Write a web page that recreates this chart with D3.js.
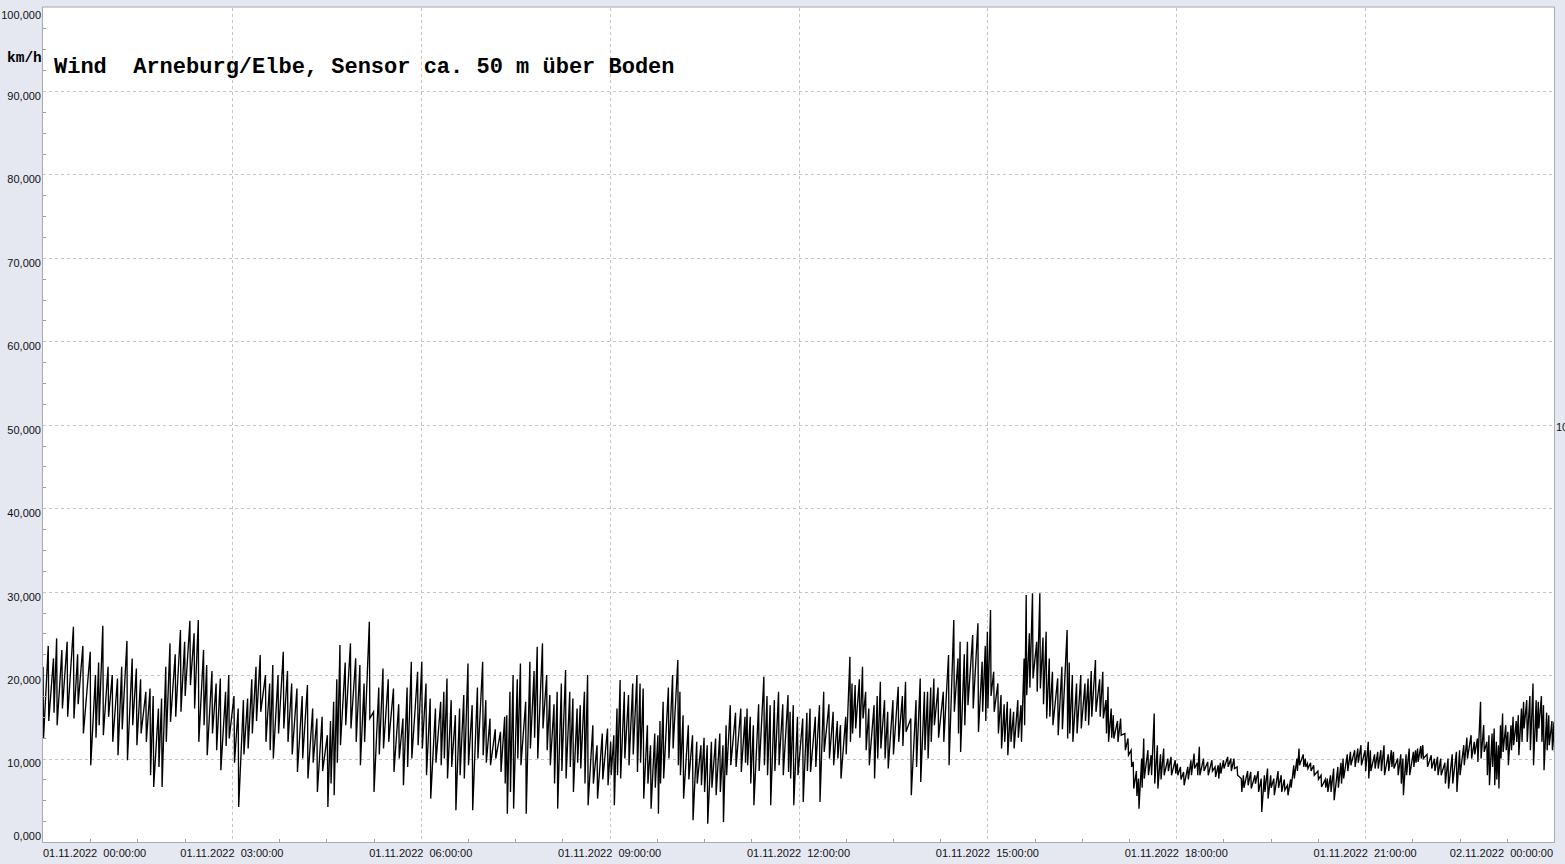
<!DOCTYPE html>
<html>
<head>
<meta charset="utf-8">
<script src="https://cdn.jsdelivr.net/npm/d3@7"></script>
<style>
html,body{margin:0;padding:0;background:#e5e8f1;}
svg{display:block;}
</style>
</head>
<body>
<svg id="chart" width="1565" height="864"></svg>
<script>
// ---------- data ----------
const chartTitle = "Wind  Arneburg/Elbe, Sensor ca. 50 m über Boden";
const unitLabel = "km/h";
const startDate = "2022-11-01T00:00:00";
const endDate = "2022-11-02T00:00:00";
const yTicks = [0, 10, 20, 30, 40, 50, 60, 70, 80, 90, 100];
const xTickHours = [0, 3, 6, 9, 12, 15, 18, 21, 24];

// minutes after 01.11.2022 00:00 of each reading pair
const sampleMinute = [
0,5,10,13,18,23,29,33,38,45,50,53,57,62,66,71,75,80,85,89,93,98,102,105,110,113,117,121,126,131,135,140,144,148,153,156,161,165,169,174,177,182,186,191,195,199,203,207,212,216,219,224,229,233,237,242,247,252,257,261,266,271,274,277,280,283,288,293,298,302,306,311,315,320,324,329,334,339,343,347,351,357,361,
365,369,374,379,382,385,389,393,397,401,405,409,414,419,422,426,431,436,440,442,445,448,452,455,460,464,468,471,476,480,483,487,490,494,498,502,505,509,512,516,519,524,528,533,538,541,544,547,550,554,558,562,566,569,572,576,579,583,586,588,591,596,600,605,607,610,615,619,623,627,630,633,637,641,645,648,651,655,660,665,669,671,674,677,682,687,690,693,697,701,705,710,
712,715,719,724,728,731,736,740,744,749,753,757,760,765,769,771,774,778,781,784,787,792,795,798,802,805,810,815,819,822,827,832,836,840,843,846,849,853,858,863,868,872,874,878,881,886,891,895,898,900,903,906,910,913,916,919,922,925,929,932,935,937,940,943,947,950,953,956,959,962,967,971,976,978,981,985,989,993,996,999,1003,1007,1010,1013,1015,1018,1020,1024,1027,1031,1034,1037,1039,1042,1044,1047,1049,1053,1056,1059,1062,
1065,1068,1072,1075,1079,1081,1084,1087,1091,1094,1097,1100,1102,1106,1110,1114,1117,1120,1122,1125,1129,1132,1135,1138,1142,1144,1148,1151,1155,1158,1161,1164,1167,1170,1173,1177,1180,1183,1186,1189,1192,1195,1197,1201,1203,1205,1208,1211,1215,1218,1222,1224,1227,1230,1234,1237,1239,1243,1246,1250,1253,1256,1260,1263,1265,1269,1272,1275,1278,1282,1285,1287,1291,1294,1296,1299,1302,1306,1308,1310,1313,1315,1319,1323,1326,1329,1332,1336,1339,1343,1347,1350,1354,1357,1361,1364,1367,1370,1373,1376,1378,1381,1383,1385,1387,1389,1391,1394,1396,1399,1401,1404,1406,1409,1411,1414,1417,1420,1423,1425,1428,1430,1433,1435,1438,1440
];

// gust peaks (km/h) at each sample
const peakKmh = [
21.0,23.5,22.0,24.4,23.0,24.0,25.8,22.5,23.5,22.8,20.0,21.5,25.9,21.0,20.0,19.6,21.0,24.1,22.0,20.8,19.5,18.0,18.4,17.5,16.0,17.2,21.0,23.8,22.5,25.4,24.0,26.5,25.0,26.6,23.0,21.2,20.5,19.0,19.6,18.0,20.0,17.5,16.0,17.0,17.2,19.5,21.0,22.4,20.0,19.0,21.2,20.0,22.8,20.5,19.0,18.4,17.5,18.8,16.0,14.8,15.0,12.8,14.5,16.8,19.5,23.6,21.5,23.8,22.0,21.2,19.0,26.4,15.6,18.5,20.8,19.5,18.4,16.5,14.8,18.5,21.6,20.4,21.6,
19.0,17.2,16.0,16.8,18.0,19.6,17.0,15.2,16.0,17.6,21.4,16.4,18.5,21.6,17.0,14.8,13.5,13.2,15.0,15.2,18.0,20.0,19.5,21.4,16.8,21.6,20.5,23.4,23.8,20.0,17.6,16.5,18.0,19.0,20.6,18.0,17.2,16.0,16.4,18.0,20.0,14.0,11.6,13.0,13.6,12.0,12.8,16.0,19.4,18.0,17.6,19.0,20.0,19.0,18.4,14.0,11.6,13.0,12.8,14.5,16.8,18.5,20.0,21.8,18.0,15.2,14.0,12.8,12.0,11.6,12.5,11.6,12.0,12.4,13.0,11.6,14.0,16.4,15.5,16.0,15.0,16.0,15.0,14.0,16.5,19.8,17.5,16.4,17.0,18.0,16.5,17.6,
15.6,16.4,15.0,14.8,15.5,16.0,15.0,16.4,18.0,16.5,15.6,14.5,14.0,15.0,22.2,19.0,18.8,19.5,21.0,18.0,16.0,16.4,17.5,19.2,17.0,15.6,17.0,18.6,17.5,19.2,14.8,17.0,19.6,18.0,18.0,18.5,19.6,18.5,18.0,22.4,26.6,22.0,24.0,22.5,24.0,24.8,26.2,21.6,23.5,25.2,27.8,20.4,19.0,17.6,16.5,16.8,16.0,15.6,17.0,16.4,22.0,29.6,25.0,29.8,24.0,29.8,24.5,25.2,22.0,20.4,19.6,21.0,25.4,21.5,20.0,19.0,20.0,19.0,19.6,20.5,21.8,19.5,20.4,17.0,18.6,16.0,15.2,14.5,14.8,13.0,12.4,11.0,9.6,8.5,7.6,10.0,12.4,11.0,10.4,15.4,11.6,
10.5,11.2,10.0,10.2,9.8,9.4,9.0,8.4,9.0,9.8,10.6,9.5,11.4,10.0,9.6,9.8,9.0,9.2,9.5,9.8,10.2,10.0,10.0,9.0,7.6,8.0,8.5,8.4,8.0,8.5,7.6,8.0,8.8,8.0,7.6,8.5,8.0,7.5,6.8,7.5,9.2,10.0,11.2,10.5,10.0,9.4,9.5,9.2,8.5,8.0,7.5,7.6,8.0,8.8,9.0,9.5,10.0,10.5,10.8,11.0,11.2,11.6,11.0,12.0,11.0,10.5,10.8,11.0,11.6,10.5,11.0,10.8,10.0,10.5,10.0,10.5,11.2,10.8,11.0,11.2,11.5,11.6,10.5,10.4,10.0,10.2,10.0,9.5,10.0,10.5,10.8,11.0,11.6,12.5,12.8,12.0,12.4,16.8,14.0,12.0,12.8,13.0,13.6,12.0,11.6,14.0,15.4,14.0,13.2,14.0,15.0,14.5,15.2,16.0,16.8,17.0,17.5,19.0,17.0,16.8,17.5,16.4,15.5,15.2,14.5,14.4
];

// lulls (km/h) right after each peak
const troughKmh = [
12.4,14.5,15.5,14.0,16.0,15.0,14.8,16.5,13.0,9.2,12.5,14.0,12.8,15.0,12.0,10.4,13.5,9.8,14.0,11.6,13.0,12.0,8.0,6.6,9.0,6.6,12.0,14.4,15.0,15.6,17.5,18.8,16.0,12.0,14.0,10.4,13.0,11.0,8.6,11.5,12.4,9.5,4.2,10.5,11.2,13.0,14.5,15.6,12.0,11.0,10.0,13.0,13.6,12.0,10.5,8.4,10.0,7.6,9.5,6.0,8.5,4.2,7.0,5.6,9.5,11.6,14.0,13.6,12.0,9.2,12.0,14.8,6.0,10.5,11.2,12.0,8.4,10.0,6.8,9.0,10.0,11.6,11.2,
8.0,5.2,9.5,9.2,10.0,7.6,9.0,3.8,8.0,7.6,9.2,3.8,10.0,10.4,9.5,9.2,10.0,8.4,7.0,3.4,6.0,4.0,10.0,9.2,3.4,11.2,12.5,10.0,13.6,11.0,9.2,7.0,4.0,8.5,7.6,9.0,6.0,9.5,8.8,7.0,4.4,7.0,5.2,7.5,6.8,8.0,4.4,8.0,7.6,10.0,9.2,10.5,8.4,9.5,5.2,7.0,4.0,6.5,3.4,7.0,7.6,10.0,11.2,9.2,8.0,5.2,7.5,2.6,7.0,6.8,6.0,2.2,6.5,5.6,6.0,2.4,8.0,9.2,9.0,8.4,9.5,9.2,7.0,4.4,8.5,9.2,8.0,4.4,8.5,9.2,8.0,8.4,
7.6,4.4,8.0,4.8,8.5,8.4,9.0,4.8,10.8,10.0,9.2,10.0,7.6,10.5,12.0,13.0,13.6,12.5,14.8,11.0,9.2,7.6,10.0,11.2,10.0,8.8,10.5,12.0,11.5,13.2,5.6,9.0,7.2,11.0,10.0,12.0,14.0,12.5,12.0,9.2,15.6,13.0,10.8,14.0,16.4,16.0,13.2,15.6,14.5,16.0,17.5,15.6,13.0,11.2,12.0,10.4,12.0,11.2,12.5,12.0,14.0,17.6,18.5,19.6,18.0,18.4,16.5,14.8,15.0,14.0,12.8,13.5,12.4,13.0,12.0,13.0,13.6,14.5,14.0,15.0,15.6,15.0,14.8,13.0,12.0,12.5,12.4,12.0,12.8,11.0,10.4,9.0,6.4,5.5,4.0,6.5,7.6,8.0,8.0,7.0,6.4,
7.5,8.0,8.5,8.0,8.2,8.0,7.5,6.8,7.5,8.0,8.8,8.0,8.0,8.5,8.0,8.5,7.8,7.6,8.2,8.8,9.0,8.5,8.8,8.0,6.0,6.5,6.8,6.4,7.0,6.0,3.6,6.0,5.2,6.5,5.6,6.5,6.0,6.2,5.6,6.5,7.6,8.5,9.2,9.0,9.0,8.8,8.5,8.0,7.5,6.6,6.5,6.0,6.0,5.0,6.5,7.0,7.6,8.5,9.2,9.0,9.5,9.2,8.5,7.6,8.5,8.8,8.8,8.5,8.0,8.5,9.0,8.8,8.0,7.0,5.6,8.0,8.0,9.0,9.5,9.6,10.0,10.0,9.0,8.8,8.5,8.0,8.0,7.0,6.4,7.0,6.0,8.0,9.2,10.0,10.0,10.5,9.6,10.0,10.8,8.0,6.8,9.0,6.8,7.5,6.4,10.0,10.8,11.0,9.2,11.0,11.6,12.0,10.4,12.0,13.6,12.0,11.0,9.2,12.0,13.6,12.0,8.6,11.0,11.6,11.0,10.8
];

// ---------- layout ----------
const plot = {left: 43, top: 7.5, right: 1554, bottom: 842};

const svg = d3.select("#chart");
const t0 = new Date(startDate), t1 = new Date(endDate);
const minuteToDate = m => new Date(t0.getTime() + m * 60000);

const x = d3.scaleTime().domain([t0, t1]).range([plot.left, plot.right]);
const y = d3.scaleLinear().domain([0, 100]).range([plot.bottom, plot.top]);

const readings = [];
sampleMinute.forEach((m, i) => {
  readings.push({t: minuteToDate(m), v: peakKmh[i]});
  readings.push({t: minuteToDate(m + 0.5), v: troughKmh[i]});
});

// plot background
svg.append("rect")
  .attr("x", plot.left).attr("y", plot.top)
  .attr("width", plot.right - plot.left).attr("height", plot.bottom - plot.top)
  .attr("fill", "#ffffff");

// grid
const grid = svg.append("g").attr("stroke", "#c4c4c4").attr("stroke-width", 1)
  .attr("stroke-dasharray", "3,3").attr("shape-rendering", "crispEdges");
yTicks.filter(v => v > 0 && v < 100).forEach(v => {
  grid.append("line").attr("x1", plot.left).attr("x2", plot.right)
    .attr("y1", Math.round(y(v)) + 0.5).attr("y2", Math.round(y(v)) + 0.5);
});
xTickHours.filter(h => h > 0 && h < 24).forEach(h => {
  const xx = Math.round(x(minuteToDate(h * 60))) + 0.5;
  grid.append("line").attr("x1", xx).attr("x2", xx)
    .attr("y1", plot.top).attr("y2", plot.bottom);
});

// title
svg.append("text")
  .attr("x", 54).attr("y", 73)
  .attr("font-family", "'Liberation Mono','Courier New',monospace")
  .attr("font-weight", "bold").attr("font-size", 22).attr("fill", "#000")
  .attr("xml:space", "preserve").style("white-space", "pre")
  .text(chartTitle);

// clip
svg.append("clipPath").attr("id", "clip").append("rect")
  .attr("x", plot.left).attr("y", plot.top)
  .attr("width", plot.right - plot.left).attr("height", plot.bottom - plot.top);

// series
const line = d3.line().x(d => x(d.t)).y(d => y(d.v));
svg.append("path")
  .datum(readings)
  .attr("clip-path", "url(#clip)")
  .attr("fill", "none").attr("stroke", "#000").attr("stroke-width", 1.35)
  .attr("stroke-linejoin", "miter")
  .attr("d", line);

// frame
svg.append("rect")
  .attr("x", plot.left - 0.5).attr("y", plot.top - 0.5)
  .attr("width", plot.right - plot.left + 1).attr("height", plot.bottom - plot.top + 1)
  .attr("fill", "none").attr("stroke", "#a9abb3").attr("stroke-width", 1);

// y axis ticks & labels
const fmt = v => d3.format(".3f")(v).replace(".", ",");
const yAxis = svg.append("g");
d3.range(0, 100.01, 2.5).forEach(v => {
  if (v % 10 === 0) return;
  yAxis.append("line").attr("x1", plot.left).attr("x2", plot.left + 3)
    .attr("y1", Math.round(y(v)) + 0.5).attr("y2", Math.round(y(v)) + 0.5)
    .attr("stroke", "#9a9ca4").attr("shape-rendering", "crispEdges");
});
yTicks.forEach(v => {
  const yy = Math.min(Math.max(y(v) + 5, 15), 836);
  yAxis.append("text")
    .attr("x", 41).attr("y", yy).attr("dy", "0.35em")
    .attr("text-anchor", "end")
    .attr("font-family", "'Liberation Sans',Arial,sans-serif").attr("font-size", 11)
    .attr("fill", "#111").text(fmt(v));
});

// unit label
svg.append("text").attr("x", 7).attr("y", 57).attr("dy", "0.35em")
  .attr("font-family", "'Liberation Mono','Courier New',monospace")
  .attr("font-weight", "bold").attr("font-size", 14.5).attr("fill", "#000")
  .text(unitLabel);

// x axis ticks & labels
const xAxis = svg.append("g");
d3.range(0, 24 * 60 + 1, 45).forEach(m => {
  if (m % 180 === 0) return;
  const xx = Math.round(x(minuteToDate(m))) + 0.5;
  xAxis.append("line").attr("x1", xx).attr("x2", xx)
    .attr("y1", plot.bottom - 3).attr("y2", plot.bottom)
    .attr("stroke", "#9a9ca4").attr("shape-rendering", "crispEdges");
});
const tf = d3.timeFormat("%d.%m.%Y  %H:%M:%S");
xTickHours.forEach(h => {
  const d = minuteToDate(h * 60);
  let xx = x(d), anchor = "middle";
  if (h === 0) { xx = plot.left; anchor = "start"; }
  if (h === 24) { xx = plot.right - 1; anchor = "end"; }
  xAxis.append("text")
    .attr("x", xx).attr("y", 853).attr("dy", "0.35em")
    .attr("text-anchor", anchor)
    .attr("font-family", "'Liberation Sans',Arial,sans-serif").attr("font-size", 11)
    .attr("fill", "#111").style("white-space", "pre").attr("xml:space", "preserve")
    .text(tf(d));
});

// right-hand label (partly outside the window, as in the reference)
svg.append("text").attr("x", 1556).attr("y", 427).attr("dy", "0.35em")
  .attr("font-family", "'Liberation Sans',Arial,sans-serif").attr("font-size", 11)
  .attr("fill", "#111").text("10");
</script>
</body>
</html>
